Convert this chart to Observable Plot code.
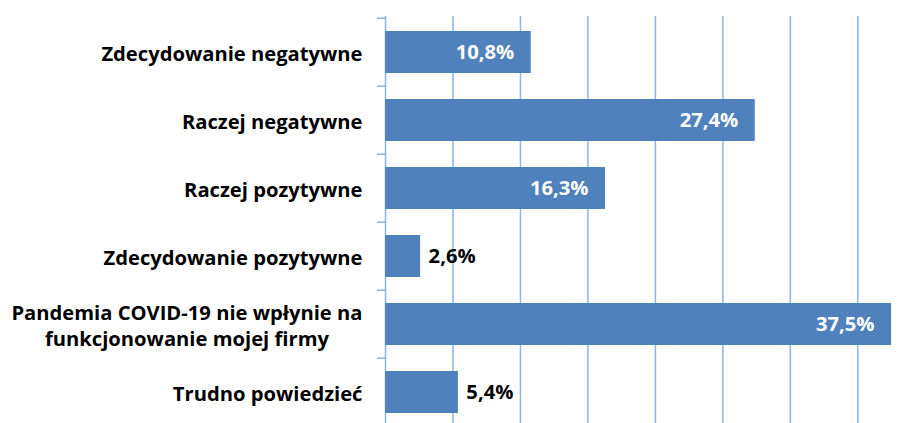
<!DOCTYPE html>
<html><head><meta charset="utf-8">
<script src="https://cdn.jsdelivr.net/npm/d3@7"></script>
<script src="https://cdn.jsdelivr.net/npm/@observablehq/plot@0.6"></script>
<style>body{margin:0;background:#fff}</style>
</head><body><div id="chart"></div>
<script>
const categories = ["Zdecydowanie negatywne","Raczej negatywne","Raczej pozytywne","Zdecydowanie pozytywne","Pandemia COVID-19 nie wpłynie na\nfunkcjonowanie mojej firmy","Trudno powiedzieć"];
const values = [10.8, 27.4, 16.3, 2.6, 37.5, 5.4];
const gridTicks = [0, 5, 10, 15, 20, 25, 30, 35];

const data = categories.map((c, i) => ({category: c, value: values[i], label: values[i].toFixed(1).replace(".", ",") + "%"}));
const W = 914, H = 423, mt = 16, mb = -4.6, ml = 385, mr = 0;
const step = (H - mt - mb) / categories.length;
const inside = data.filter(d => d.value >= 8), outside = data.filter(d => d.value < 8);

const chart = Plot.plot({
  width: W, height: H, marginTop: mt, marginBottom: mb, marginLeft: ml, marginRight: mr,
  x: {domain: [0, 39.2], axis: null},
  y: {domain: categories, axis: null, paddingInner: 0.383, paddingOuter: 0.19},
  style: {fontFamily: "'Open Sans', sans-serif", fontWeight: 700, fontSize: "20.2px", background: "#fff"},
  marks: [
    Plot.ruleX(gridTicks, {stroke: "#8eb4e3", strokeWidth: 1.5}),
    Plot.ruleY(categories, {y: d => d, x1: -0.6, x2: 0, dy: -step / 2, stroke: "#8eb4e3", strokeWidth: 1.5}),
    Plot.barX(data, {x: "value", y: "category", fill: "#4f81bd"}),
    Plot.text(inside, {x: "value", y: "category", text: "label", textAnchor: "end", dx: -17, fill: "white"}),
    Plot.text(outside, {x: "value", y: "category", text: "label", textAnchor: "start", dx: 8, fill: "black"}),
    Plot.text(data, {x: 0, y: "category", text: "category", textAnchor: "end", dx: -23, fill: "black", lineHeight: 1.32})
  ]
});
document.getElementById("chart").appendChild(chart);
// center multi-line category labels (Excel style)
chart.querySelectorAll("text").forEach(t => {
  const spans = t.querySelectorAll("tspan");
  if (spans.length > 1) {
    const m = Math.max(...Array.from(spans, s => s.getComputedTextLength()));
    t.setAttribute("text-anchor", "middle");
    spans.forEach(s => s.setAttribute("x", -m / 2));
  }
});
</script>
</body></html>
